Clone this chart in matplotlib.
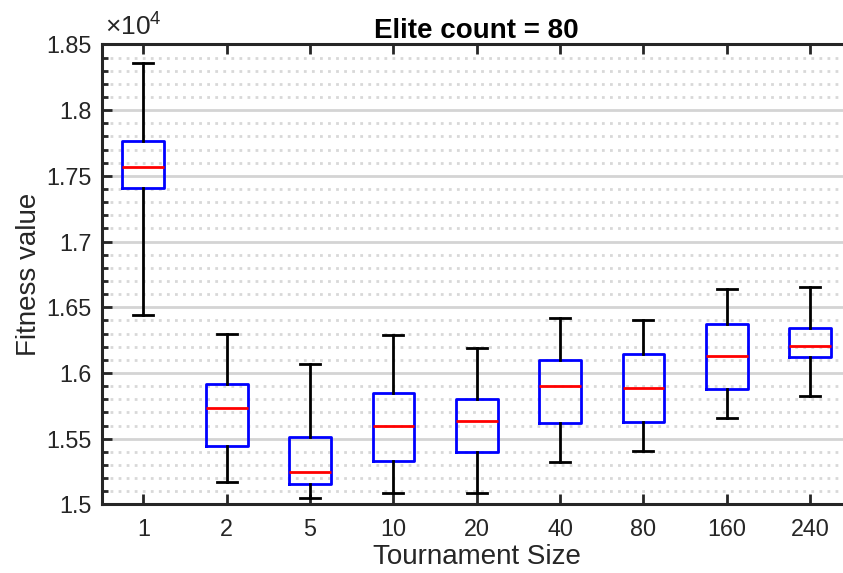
import matplotlib
matplotlib.use("Agg")
import matplotlib.pyplot as plt
from matplotlib.ticker import MultipleLocator, FuncFormatter

plt.rcParams['font.family'] = ['Liberation Sans', 'DejaVu Sans']
plt.rcParams['mathtext.fontset'] = 'custom'
plt.rcParams['mathtext.rm'] = 'Liberation Sans'
plt.rcParams['mathtext.it'] = 'Liberation Sans'

# tournament sizes and box statistics (fitness value)
sizes = ['1', '2', '5', '10', '20', '40', '80', '160', '240']
whislo = [16441, 15168, 15051, 15089, 15089, 15325, 15406, 15660, 15829]
q1 = [17409, 15447, 15155, 15333, 15401, 15621, 15628, 15879, 16125]
med = [17566, 15736, 15247, 15597, 15635, 15899, 15887, 16130, 16203]
q3 = [17764, 15919, 15515, 15846, 15804, 16099, 16145, 16372, 16340]
whishi = [18360, 16297, 16066, 16289, 16188, 16416, 16401, 16638, 16651]

stats = []
for i in range(len(sizes)):
    stats.append({'label': sizes[i], 'whislo': whislo[i], 'q1': q1[i],
                  'med': med[i], 'q3': q3[i], 'whishi': whishi[i], 'fliers': []})

txt = '#262626'
fig = plt.figure(figsize=(8.43, 5.73), dpi=100)
ax = fig.add_axes([0.1206, 0.1196, 0.8897, 0.8028])

ax.bxp(stats, widths=0.5, capwidths=0.24, showfliers=False,
       boxprops=dict(color='blue', linewidth=2.0),
       medianprops=dict(color='red', linewidth=2.0),
       whiskerprops=dict(color='black', linewidth=2.0),
       capprops=dict(color='black', linewidth=2.0))

ax.set_xlim(0.5, 9.5)
ax.set_ylim(15000, 18500)
ax.yaxis.set_major_locator(MultipleLocator(500))
ax.yaxis.set_minor_locator(MultipleLocator(100))
ax.yaxis.set_major_formatter(FuncFormatter(lambda v, p: '%g' % round(v / 1e4, 3)))

ax.set_axisbelow(True)
ax.grid(axis='y', which='major', color='#d4d4d4', linewidth=2.0, linestyle='-')
ax.grid(axis='y', which='minor', color='#d8d8d8', linewidth=2.0, linestyle=(0, (1, 1.9)))

for s in ['left', 'bottom', 'top']:
    ax.spines[s].set_linewidth(2.2)
    ax.spines[s].set_color(txt)
ax.spines['right'].set_visible(False)

ax.tick_params(axis='x', which='both', direction='in', top=True, length=7, width=2,
               color=txt, labelcolor=txt, labelsize=16.8, pad=10)
ax.tick_params(axis='y', which='major', direction='in', right=False, length=7, width=2,
               color=txt, labelcolor=txt, labelsize=16.8, pad=7)
ax.tick_params(axis='y', which='minor', direction='in', right=False, length=4, width=2,
               color=txt)

ax.set_xlabel('Tournament Size', fontsize=20, color=txt, labelpad=2)
ax.set_ylabel('Fitness value', fontsize=20, color=txt, labelpad=3)
ax.set_title('Elite count = 80', fontsize=20, fontweight='bold', pad=3)
ax.text(0.004, 1.008, r'$\times10^{4}$', transform=ax.transAxes, fontsize=19,
        color=txt, ha='left', va='bottom')

fig.savefig('out.png', dpi=100)
